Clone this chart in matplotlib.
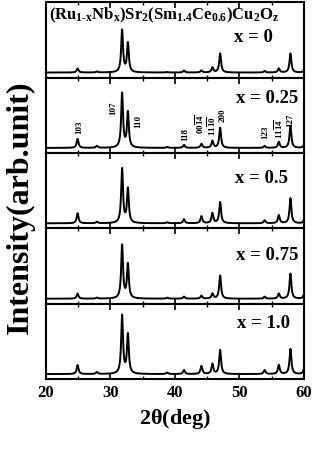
import numpy as np
import matplotlib
matplotlib.use("Agg")
import matplotlib.pyplot as plt
from matplotlib.ticker import MultipleLocator

plt.rcParams['font.family'] = ['Liberation Serif', 'DejaVu Serif']
plt.rcParams['font.weight'] = 'bold'
plt.rcParams['mathtext.fontset'] = 'custom'
plt.rcParams['mathtext.rm'] = 'Liberation Serif:bold'
plt.rcParams['mathtext.it'] = 'Liberation Serif:bold'
plt.rcParams['mathtext.bf'] = 'Liberation Serif:bold'

# peak positions (2theta, deg)
peak_pos = [24.9, 27.9, 31.8, 32.7, 38.8, 41.4, 44.1, 45.8, 47.0, 53.9, 56.1, 57.9, 60.0]

# peak heights for each Nb content (arb. units)
h_x000 = [4, 1, 42, 29, 0.5, 2, 2, 5, 19, 1.5, 4, 19, 2]
h_x025 = [9, 2, 54, 35, 1, 3, 4, 7, 20, 2, 6, 22, 3]
h_x050 = [10, 1.5, 54, 34, 1, 4, 7, 10, 21, 3, 8, 25, 3]
h_x075 = [5, 1, 53, 34, 1, 2, 3, 5, 23, 2, 5, 25, 4]
h_x100 = [9, 2, 58, 39, 1.5, 4, 8, 10, 24, 4, 9, 25, 5]

samples = ['x = 0', 'x = 0.25', 'x = 0.5', 'x = 0.75', 'x = 1.0']
heights = [h_x000, h_x025, h_x050, h_x075, h_x100]

# hkl labels for the x = 0.25 pattern
hkl_labels = ['103', '107', '110', '118', r'00$\overline{14}$', r'11$\overline{10}$',
              '200', '123', r'11$\overline{14}$', '127']
hkl_x = [25.1, 30.4, 34.3, 41.6, 43.8, 45.7, 47.4, 54.0, 56.0, 57.8]
hkl_y = [14.5, 34, 21, 7.7, 14.5, 12.5, 27, 9.6, 9.6, 22]

tt = np.linspace(20, 60, 2000)
hwhm = 0.17

fig, axes = plt.subplots(5, 1, figsize=(3.15, 4.52), dpi=100, sharex=True)
fig.subplots_adjust(left=0.146, right=0.965, top=0.993, bottom=0.159, hspace=0)

label_pos = [(55.2, 0.55), (59.1, 0.74), (57.6, 0.67), (59.1, 0.65), (57.8, 0.75)]

for i, ax in enumerate(axes):
    y = np.zeros_like(tt)
    for p, h in zip(peak_pos, heights[i]):
        y += h * hwhm**2 / ((tt - p)**2 + hwhm**2)
    ax.plot(tt, y, color='black', lw=1.4)
    ax.set_xlim(20, 60)
    ax.set_ylim(-5, 70)
    ax.set_yticks([])
    ax.xaxis.set_major_locator(MultipleLocator(10))
    ax.xaxis.set_minor_locator(MultipleLocator(5))
    ax.tick_params(axis='x', which='both', direction='in', top=True, labelsize=12)
    ax.tick_params(axis='x', which='major', length=4, width=1.2)
    ax.tick_params(axis='x', which='minor', length=2.5, width=1.0)
    for s in ax.spines.values():
        s.set_linewidth(1.5)
    lx, ly = label_pos[i]
    ax.text(lx, ly, samples[i], transform=ax.get_xaxis_transform(),
            ha='right', va='center', fontsize=13.5, fontweight='bold')

axes[0].text(0.01, 0.84, r'(Ru$_{1\text{-}x}$Nb$_x$)Sr$_2$(Sm$_{1.4}$Ce$_{0.6}$)Cu$_2$O$_z$',
             transform=axes[0].transAxes, ha='left', va='center', fontsize=12)

for lab, lx, ly in zip(hkl_labels, hkl_x, hkl_y):
    axes[1].text(lx, ly, lab, rotation=90, ha='center', va='bottom', fontsize=6.5)

for lab in axes[-1].get_xticklabels():
    lab.set_fontweight('bold')
axes[-1].set_xlabel(r'2$\theta$(deg)', fontsize=16, fontweight='bold', labelpad=4)
fig.text(0.065, 0.542, 'Intensity(arb.unit)', rotation=90, ha='center', va='center',
         fontsize=23, fontweight='bold')

fig.savefig('out.png', dpi=100)
